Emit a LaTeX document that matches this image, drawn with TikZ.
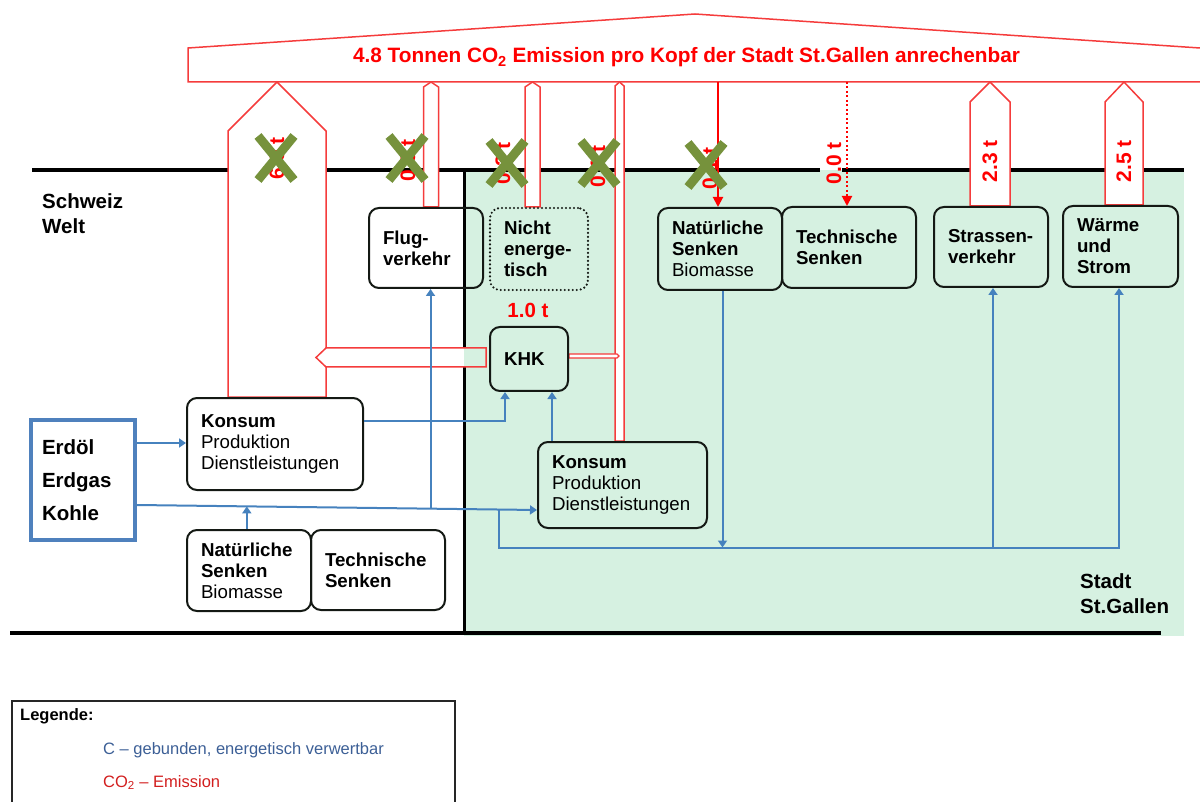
\documentclass[tikz,border=0pt]{standalone}
\usepackage{fontspec}
\setmainfont{Liberation Sans}
\usetikzlibrary{arrows.meta,calc}
\definecolor{co2}{RGB}{245,60,60}
\definecolor{co2txt}{RGB}{255,0,0}
\definecolor{cblue}{RGB}{70,130,190}
\definecolor{erdblue}{RGB}{79,129,189}
\definecolor{stadtgreen}{RGB}{214,241,225}
\definecolor{xgreen}{RGB}{118,146,60}
\definecolor{boxc}{RGB}{20,25,20}
\definecolor{legblue}{RGB}{60,95,150}
\definecolor{legred}{RGB}{210,30,30}
\pgfdeclarelayer{bg}
\pgfsetlayers{bg,main}
\newcommand{\nf}{\fontsize{18.7}{21}\selectfont\bfseries}
\newcommand{\coarrow}[3]{%
  \filldraw[coblock] let \p1=(#1), \p2=(bannerbot) in
    (\x1-#2,\y1) -- (\x1-#2,\y2-#3) -- (\x1,\y2) -- (\x1+#2,\y2-#3) -- (\x1+#2,\y1) -- cycle;}
\newcommand{\greenx}[1]{%
  \draw[xm] ($(#1)+(-18,-22)$) -- ($(#1)+(18,22)$) ($(#1)+(18,-22)$) -- ($(#1)+(-18,22)$);}
\begin{document}
\begin{tikzpicture}[x=1pt,y=-1pt,
  box/.style={draw=boxc, line width=2pt, rounded corners=10pt, align=left,
    inner xsep=14pt, inner ysep=0pt, font=\nf, text=black},
  dotbox/.style={box, dash pattern=on 0pt off 4pt, line cap=round, line width=2.4pt},
  coblock/.style={draw=co2, fill=white, line width=1.5pt},
  lab/.style={text=co2txt, font=\fontsize{21}{21}\selectfont\bfseries, rotate=90, inner sep=0pt},
  xm/.style={draw=xgreen, line width=9pt},
  cl/.style={draw=cblue, line width=2pt},
  ca/.style={cl, -{Triangle[width=9pt,length=7pt]}},
  big/.style={font=\fontsize{20.5}{25}\selectfont\bfseries, align=left, inner sep=0pt, text=black}]
\useasboundingbox (0,0) rectangle (1200,802);

% ---------- nodes ----------
\node[box, text width=86pt, minimum height=80pt] (flug) at (426,248) {Flug-\\verkehr};
\node[dotbox, text width=70pt, minimum height=82pt] (nicht) at (539,249) {Nicht\\energe-\\tisch};
\node[box, text width=96pt, minimum height=82pt] (natR) at (720,249) {Natürliche\\Senken\\\mdseries Biomasse};
\node[box, text width=106pt, minimum height=81pt] (techR) at (849,247.5) {Technische\\Senken};
\node[box, text width=86pt, minimum height=80pt] (strassen) at (991,247) {Strassen-\\verkehr};
\node[box, text width=87pt, minimum height=81pt] (waerme) at (1120.5,246.5) {Wärme\\und\\Strom};
\node[box, text width=50pt, minimum height=64pt] (khk) at (529,359) {KHK};
\node[box, text width=148pt, minimum height=92pt] (konsumL) at (275,444) {Konsum\\\mdseries Produktion\\\mdseries Dienstleistungen};
\node[box, text width=141pt, minimum height=86pt] (konsumR) at (622.5,485) {Konsum\\\mdseries Produktion\\\mdseries Dienstleistungen};
\node[box, text width=96pt, minimum height=81pt] (natL) at (249,570.5) {Natürliche\\Senken\\\mdseries Biomasse};
\node[box, text width=106pt, minimum height=80pt] (techL) at (378,570) {Technische\\Senken};
\node[draw=erdblue, line width=3.5pt, minimum width=104pt, minimum height=120pt,
  text width=82pt, inner xsep=11pt, align=left,
  font=\fontsize{20.5}{33}\selectfont\bfseries] (erd) at (83,480) {Erdöl\\Erdgas\\Kohle};

\node[big, anchor=north west] (schweiz) at (42,193) {Schweiz\\Welt};
\node[big, anchor=north west] (stadt) at (1080,573) {Stadt\\St.Gallen};

\coordinate (bannerbot) at (0,82);
\coordinate (bus) at (0,547.5);

% ---------- background layer ----------
\begin{pgfonlayer}{bg}
\fill[stadtgreen] (464,170) rectangle (1184,636);
\draw[black, line width=4pt] (32,170) -- (820,170) (842,170) -- (1184,170);
\draw[black, line width=4pt] (10,633) -- (1161,633);
\draw[black, line width=3pt] (464,170) -- (464,633);

% banner
\draw[co2, line width=1.5pt] (1200,48) -- (695,14) -- (188,48) -- (188,82) -- (1200,82);
\node[font=\fontsize{20.8}{22}\selectfont\bfseries, text=co2txt, anchor=base] (bannertxt) at (686.5,63)
  {4.8 Tonnen CO\textsubscript{2} Emission pro Kopf der Stadt St.Gallen anrechenbar};

% block arrows
\coarrow{[xshift=2pt]konsumL.north}{49pt}{49pt}
\coarrow{[xshift=5pt]flug.north}{7.5pt}{5pt}
\coarrow{[xshift=-6.5pt]nicht.north}{7.5pt}{5pt}
\coarrow{[xshift=-3pt]konsumR.north}{4.5pt}{4pt}
\coarrow{[xshift=-1pt]strassen.north}{20pt}{20pt}
\coarrow{[xshift=3.5pt]waerme.north}{19pt}{20pt}

% horizontal arrow KHK -> left
\fill[white] ($(khk.west)+(-163,-11)$) -- ($(khk.west)+(-173,-1.5)$) -- ($(khk.west)+(-163,8)$) -- (464,367) -- (464,348) -- cycle;
\fill[stadtgreen] (464,348) rectangle ($(khk.west)+(-3,8)$);
\draw[co2, line width=1.5pt] ($(khk.west)+(-3,-11)$) -- ($(khk.west)+(-163,-11)$) -- ($(khk.west)+(-173,-1.5)$)
  -- ($(khk.west)+(-163,8)$) -- ($(khk.west)+(-3,8)$) -- cycle;
% small connector KHK -> thin arrow
\filldraw[coblock, line width=1.2pt] ($(khk.east)+(0,-5)$) -- ++(48,0) -- ++(2,2) -- ++(-2,2) -- ($(khk.east)+(0,-1)$) -- cycle;

% red line arrows
\draw[co2txt, line width=2pt, -{Triangle[width=10pt,length=10pt]}] ([xshift=-2pt]natR.north |- bannerbot) -- ([xshift=-2pt]natR.north);
\draw[co2txt, line width=2pt, dash pattern=on 2pt off 2.5pt, -{Triangle[width=10pt,length=10pt]}] ([xshift=-2pt]techR.north |- bannerbot) -- ([xshift=-2pt]techR.north);

% labels
\node[lab] (l1) at (277,158) {6.9 t};
\node[lab] (l2) at (408,160) {0.5 t};
\node[lab] (l3) at (503,163) {0.2 t};
\node[lab] (l4) at (598,166) {0.1 t};
\node[lab] (l5) at (710,168) {0.1 t};
\node[lab] (l6) at (834,163) {0.0 t};
\node[lab] (l7) at (990,161.5) {2.3 t};
\node[lab] (l8) at (1124,161.5) {2.5 t};
\node[text=co2txt, font=\fontsize{20.5}{20}\selectfont\bfseries, inner sep=0pt] (khklab) at (528,310) {1.0 t};

% crosses
\greenx{276,158}
\greenx{407,158}
\greenx{507,163}
\greenx{599,163}
\greenx{706,165}
\end{pgfonlayer}

% ---------- blue connectors ----------
\coordinate (sA) at ([yshift=-25pt]erd.east);
\coordinate (sB) at ([yshift=-25pt]konsumR.west);
\coordinate (jN) at ($(sA)!0.275!(sB)$);
\coordinate (jF) at ($(sA)!0.734!(sB)$);
\coordinate (jD) at ($(sA)!0.906!(sB)$);
\draw[ca] ([yshift=37pt]erd.east) -- ([yshift=37pt]erd.east -| konsumL.west);
\draw[ca] (sA) -- (sB);
\draw[ca] (jF) -- (jF |- flug.south);
\draw[ca] (jN |- natL.north) -- (jN);
\draw[ca] (jD) |- ([xshift=-1.5pt]waerme.south |- bus) -- ([xshift=-1.5pt]waerme.south);
\draw[ca] ([xshift=2pt]strassen.south |- bus) -- ([xshift=2pt]strassen.south);
\draw[ca] ([xshift=2.5pt]natR.south) -- ([xshift=2.5pt]natR.south |- bus);
\draw[ca] ([yshift=23pt]konsumL.east) -| ([xshift=-24pt]khk.south);
\draw[ca] ([xshift=23pt]khk.south |- konsumR.north) -- ([xshift=23pt]khk.south);

% ---------- legend ----------
\draw[line width=1.2pt, black!85] (12,810) -- (12,701) -- (455,701) -- (455,810);
\node[anchor=base west, inner sep=0pt, font=\fontsize{16.5}{18}\selectfont\bfseries] (legtitle) at (20,720) {Legende:};
\node[anchor=base west, inner sep=0pt, font=\fontsize{16.5}{18}\selectfont, text=legblue] (legc) at (103,754) {C – gebunden, energetisch verwertbar};
\node[anchor=base west, inner sep=0pt, font=\fontsize{16.5}{18}\selectfont, text=legred] (legco) at (103,787) {CO\textsubscript{2} – Emission};
\end{tikzpicture}
\end{document}
